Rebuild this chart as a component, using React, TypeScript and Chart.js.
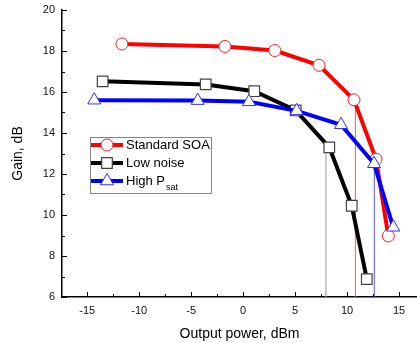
import React, { useEffect, useRef } from "react";
import { Chart, registerables } from "chart.js";

Chart.register(...registerables);

const xTicks = [-15, -10, -5, 0, 5, 10, 15];
const yTicks = [6, 8, 10, 12, 14, 16, 18, 20];

const standardX = [-11.66, -1.75, 3.05, 7.3, 10.67, 12.79, 13.97];
const standardY = [18.34, 18.22, 18.02, 17.3, 15.62, 12.72, 8.98];

const lowNoiseX = [-13.52, -3.6, 1.07, 5.06, 8.29, 10.45, 11.9];
const lowNoiseY = [16.52, 16.37, 16.04, 15.1, 13.3, 10.45, 6.87];

const highPsatX = [-14.33, -4.37, 0.56, 5.15, 9.42, 12.6, 14.45];
const highPsatY = [15.6, 15.58, 15.52, 15.08, 14.4, 12.5, 9.4];

const markerX = [7.97, 10.8, 12.62];
const markerTopY = [13.25, 15.62, 12.5];

const FONT = "'Liberation Sans', Arial, sans-serif";

const pts = (xs: number[], ys: number[]) => xs.map((x, i) => ({ x, y: ys[i] }));

function drawMarker(ctx: any, style: string, x: number, y: number, r: number) {
  ctx.beginPath();
  if (style === "circle") {
    ctx.arc(x, y, r, 0, Math.PI * 2);
  } else if (style === "rect") {
    const s = Math.SQRT1_2 * r;
    ctx.rect(x - s, y - s, 2 * s, 2 * s);
  } else {
    let rad = 0;
    ctx.moveTo(x + Math.sin(rad) * r, y - Math.cos(rad) * r);
    rad += (2 * Math.PI) / 3;
    ctx.lineTo(x + Math.sin(rad) * r, y - Math.cos(rad) * r);
    rad += (2 * Math.PI) / 3;
    ctx.lineTo(x + Math.sin(rad) * r, y - Math.cos(rad) * r);
    ctx.closePath();
  }
  ctx.fill();
  ctx.stroke();
}

const legendPlugin = {
  id: "customLegend",
  afterDraw(chart: any) {
    const ctx = chart.ctx;
    ctx.save();
    const bx = 90.5, by = 137.5, bw = 121, bh = 56;
    ctx.fillStyle = "#fff";
    ctx.fillRect(bx, by, bw, bh);
    ctx.strokeStyle = "#888";
    ctx.lineWidth = 1;
    ctx.strokeRect(bx, by, bw, bh);
    const items = [
      { ds: 0, label: "Standard SOA", sub: "" },
      { ds: 1, label: "Low noise", sub: "" },
      { ds: 2, label: "High P", sub: "sat" },
    ];
    const rowsY = [145, 163, 181];
    items.forEach((it, i) => {
      const ds = chart.data.datasets[it.ds];
      const y = rowsY[i];
      ctx.strokeStyle = ds.borderColor;
      ctx.lineWidth = ds.borderWidth;
      ctx.beginPath();
      ctx.moveTo(91, y);
      ctx.lineTo(123, y);
      ctx.stroke();
      ctx.lineWidth = ds.pointBorderWidth;
      ctx.strokeStyle = ds.pointBorderColor;
      ctx.fillStyle = ds.pointBackgroundColor;
      drawMarker(ctx, ds.pointStyle, 107, y, ds.pointRadius);
      ctx.fillStyle = "#000";
      ctx.font = `13px ${FONT}`;
      ctx.textBaseline = "middle";
      ctx.textAlign = "left";
      ctx.fillText(it.label, 126, y);
      if (it.sub) {
        const w = ctx.measureText(it.label).width;
        ctx.font = `9px ${FONT}`;
        ctx.fillText(it.sub, 126 + w + 1, y + 7);
      }
    });
    ctx.restore();
  },
};

const ticksPlugin = {
  id: "customTicks",
  afterDatasetsDraw(chart: any) {
    const ctx = chart.ctx;
    const xs = chart.scales.x;
    const ys = chart.scales.y;
    const left = chart.chartArea.left;
    const bottom = chart.chartArea.bottom;
    ctx.save();
    ctx.strokeStyle = "#000";
    ctx.lineWidth = 1;
    for (let v = -17.5; v <= 16.7; v += 2.5) {
      const px = Math.round(xs.getPixelForValue(v)) + 0.5;
      if (px < left + 1) continue;
      const major = xTicks.includes(v);
      ctx.beginPath();
      ctx.moveTo(px, bottom);
      ctx.lineTo(px, bottom - (major ? 5 : 3));
      ctx.stroke();
    }
    for (let v = 6; v <= 20; v += 1) {
      const py = Math.round(ys.getPixelForValue(v)) + 0.5;
      const major = yTicks.includes(v);
      ctx.beginPath();
      ctx.moveTo(left, py);
      ctx.lineTo(left + (major ? 5 : 3), py);
      ctx.stroke();
    }
    ctx.restore();
  },
};

export default function App() {
  const ref = useRef<HTMLCanvasElement | null>(null);
  useEffect(() => {
    document.body.style.margin = "0";
    if (!ref.current) return;
    const vline = (i: number, color: string) => ({
      label: "v" + i,
      data: [
        { x: markerX[i], y: 6 },
        { x: markerX[i], y: markerTopY[i] },
      ],
      borderColor: color,
      borderWidth: 1,
      pointRadius: 0,
      showLine: true,
      order: 10,
    });
    const chart = new Chart(ref.current, {
      type: "scatter",
      data: {
        datasets: [
          {
            label: "Standard SOA",
            data: pts(standardX, standardY),
            showLine: true,
            borderColor: "#ff0000",
            borderWidth: 4,
            pointStyle: "circle",
            pointRadius: 6,
            pointBorderWidth: 1,
            pointBorderColor: "#ff2020",
            pointBackgroundColor: "#ffffff",
            order: 1,
          } as any,
          {
            label: "Low noise",
            data: pts(lowNoiseX, lowNoiseY),
            showLine: true,
            borderColor: "#000000",
            borderWidth: 4,
            pointStyle: "rect",
            pointRadius: 7.5,
            pointBorderWidth: 1.2,
            pointBorderColor: "#444444",
            pointBackgroundColor: "#ffffff",
            order: 2,
          } as any,
          {
            label: "High Psat",
            data: pts(highPsatX, highPsatY),
            showLine: true,
            borderColor: "#0000ff",
            borderWidth: 4,
            pointStyle: "triangle",
            pointRadius: 7.5,
            pointBorderWidth: 1,
            pointBorderColor: "#3030ff",
            pointBackgroundColor: "#ffffff",
            order: 0,
          } as any,
          vline(0, "#999999") as any,
          vline(1, "#ff5555") as any,
          vline(2, "#5555ff") as any,
        ],
      },
      options: {
        animation: false,
        responsive: false,
        devicePixelRatio: 1,
        layout: { autoPadding: false, padding: { top: 10, right: 0, left: 0, bottom: 0 } },
        plugins: {
          legend: { display: false },
          tooltip: { enabled: false },
        },
        scales: {
          x: {
            type: "linear",
            min: -17.43,
            max: 16.73,
            afterBuildTicks: (s: any) => {
              s.ticks = xTicks.map((v) => ({ value: v }));
            },
            afterFit: (s: any) => {
              s.height = 46;
              s.paddingLeft = 0;
              s.paddingRight = 0;
            },
            grid: { display: false, drawTicks: false },
            border: { display: true, color: "#000", width: 1.5 },
            ticks: {
              padding: 7,
              color: "#111",
              font: { family: FONT, size: 11 },
              maxRotation: 0,
            },
            title: {
              display: true,
              text: "Output power, dBm",
              color: "#000",
              font: { family: FONT, size: 14 },
              padding: { top: 2, bottom: 0 },
            },
          },
          y: {
            type: "linear",
            min: 6,
            max: 20,
            afterBuildTicks: (s: any) => {
              s.ticks = yTicks.map((v) => ({ value: v }));
            },
            afterFit: (s: any) => {
              s.width = 62;
              s.paddingTop = 0;
              s.paddingBottom = 0;
            },
            grid: { display: false, drawTicks: false },
            border: { display: true, color: "#000", width: 1.5 },
            ticks: {
              padding: 7,
              color: "#111",
              font: { family: FONT, size: 11 },
            },
            title: {
              display: true,
              text: "Gain, dB",
              color: "#000",
              font: { family: FONT, size: 14 },
              padding: { top: 10, bottom: 0 },
            },
          },
        },
      },
      plugins: [ticksPlugin, legendPlugin],
    } as any);
    return () => chart.destroy();
  }, []);
  return (
    <div style={{ width: 417, height: 343 }}>
      <canvas ref={ref} width={417} height={343} style={{ display: "block" }} />
    </div>
  );
}
